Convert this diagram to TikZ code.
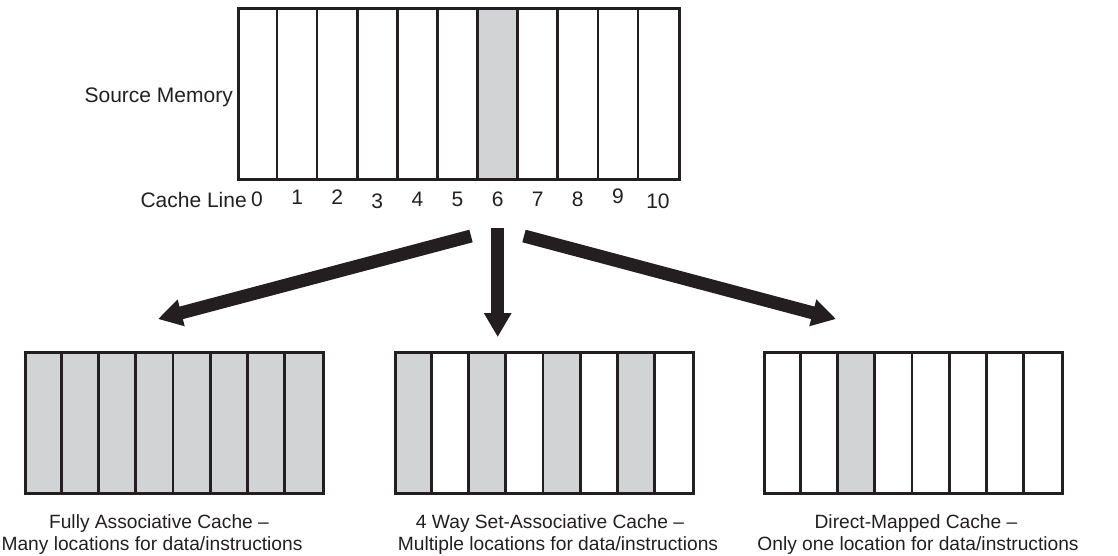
\documentclass[tikz,border=0pt]{standalone}
\usepackage{fontspec}
\setmainfont{Liberation Sans}
\usetikzlibrary{arrows.meta}
\definecolor{ink}{HTML}{231F20}
\definecolor{cellgray}{HTML}{D1D3D4}
\begin{document}
\begin{tikzpicture}[x=1pt,y=-1pt,
  frame/.style={draw=ink, line width=2.6pt, inner sep=0pt, anchor=north west},
  divider/.style={draw=ink, line width=2.6pt},
  filled/.style={fill=cellgray},
  toplabel/.style={text=ink, font=\fontsize{21}{25}\selectfont, inner sep=0pt},
  caption/.style={text=ink, font=\fontsize{19.2}{22}\selectfont, inner sep=0pt, anchor=base},
  fat/.style={draw=ink, line width=13pt, -{Triangle[width=26pt,length=24pt]}}]
\useasboundingbox (0,0) rectangle (1118,555);

% ---- source memory: 11 cache lines, line 6 highlighted
\def\sw{40.09}
\fill[filled] ({237+6*\sw},7) rectangle ({237+7*\sw},178);
\foreach \i in {1,...,10} \draw[divider] ({237+\i*\sw},7) -- ({237+\i*\sw},178);
\node[frame, minimum width=441pt, minimum height=171pt] (src) at (237,7) {};

\node[toplabel, anchor=base east] (srclbl) at (233,102) {Source Memory};
\node[toplabel, anchor=base east] (linelbl) at (247,207) {Cache Line};
\foreach \i/\dy in {0/206.5,1/204,2/204,3/208.3,4/206,5/206,6/206,7/206,8/206,9/203.3,10/208.3}
  \node[toplabel, anchor=base] (n\i) at ({237+(\i+0.5)*\sw},\dy) {\i};

% ---- three caches, 8 lines each
\def\cw{37.25}
% fully associative: every line
\fill[filled] (24,351) rectangle (322,492);
\foreach \i in {1,...,7} \draw[divider] ({24+\i*\cw},351) -- ({24+\i*\cw},492);
\node[frame, minimum width=298pt, minimum height=141pt] (full) at (24,351) {};

% 4-way set associative: every other line
\foreach \i in {0,2,4,6} \fill[filled] ({394+\i*\cw},351) rectangle ({394+(\i+1)*\cw},492);
\foreach \i in {1,...,7} \draw[divider] ({394+\i*\cw},351) -- ({394+\i*\cw},492);
\node[frame, minimum width=298pt, minimum height=141pt] (setassoc) at (394,351) {};

% direct mapped: a single line
\fill[filled] ({763+2*\cw},351) rectangle ({763+3*\cw},492);
\foreach \i in {1,...,7} \draw[divider] ({763+\i*\cw},351) -- ({763+\i*\cw},492);
\node[frame, minimum width=298pt, minimum height=141pt] (direct) at (763,351) {};

% ---- captions
\node[caption] (fullA) at (159,528) {Fully Associative Cache –};
\node[caption] (fullB) at (152,550) {Many locations for data/instructions};
\node[caption] (setA) at (550,528) {4 Way Set-Associative Cache –};
\node[caption] (setB) at (558,550) {Multiple locations for data/instructions};
\node[caption] (dirA) at (916,528) {Direct-Mapped Cache –};
\node[caption] (dirB) at (918,550) {Only one location for data/instructions};

% ---- mapping arrows
\coordinate (fromL) at (471,236);
\coordinate (fromM) at (497.7,228);
\coordinate (fromR) at (524,236);
\coordinate (toL) at (158,319);
\coordinate (toM) at (497.7,337);
\coordinate (toR) at (836,319);
\draw[fat] (fromL) -- (toL);
\draw[fat] (fromM) -- (toM);
\draw[fat] (fromR) -- (toR);
\end{tikzpicture}
\end{document}
